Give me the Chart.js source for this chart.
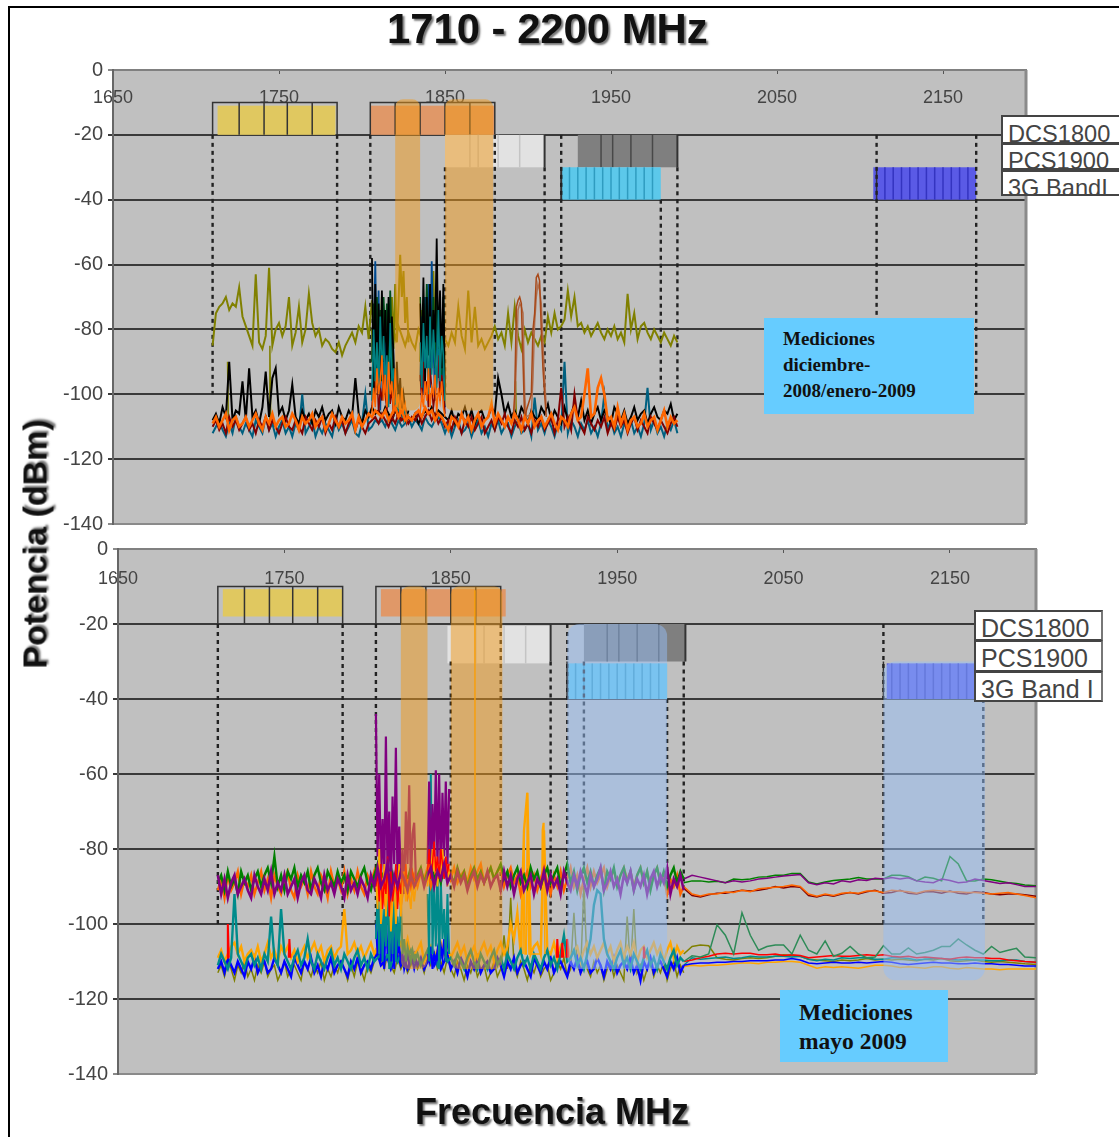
<!DOCTYPE html>
<html>
<head>
<meta charset="utf-8">
<title>1710 - 2200 MHz</title>
<script src="https://cdn.jsdelivr.net/npm/chart.js@4"></script>
<style>
html, body { margin: 0; padding: 0; background: #fff; }
#page { position: relative; width: 1119px; height: 1137px; overflow: hidden; filter: blur(0.55px); font-family: "Liberation Sans", Arial, sans-serif; }
#frame { position: absolute; left: 8px; top: 6px; width: 1111px; height: 1131px; border-left: 2px solid #000; border-top: 2px solid #000; box-sizing: border-box; }
canvas { position: absolute; left: 0; }
.heading { position: absolute; font-weight: bold; color: #111; white-space: nowrap; text-shadow: 2px 2px 2px #777; }
.legend-box { position: absolute; background: #fff; border: 2px solid #444; border-right-color: #777; box-sizing: border-box; overflow: hidden; color: #444; white-space: nowrap; }
.note { position: absolute; background: #66ccff; color: #111; font-family: "Liberation Serif", serif; font-weight: bold; }
.note div { position: absolute; white-space: nowrap; }
</style>
</head>
<body>
<div id="page">
  <div id="frame"></div>
  <canvas id="topChart" width="1119" height="494" style="top:50px"></canvas>
  <canvas id="bottomChart" width="1119" height="565" style="top:529px"></canvas>

  <div class="heading" style="left:387px;top:5px;font-size:41.8px">1710 - 2200 MHz</div>
  <div class="heading" style="left:35px;top:544px;font-size:34px;transform:translate(-50%,-50%) rotate(-90deg)">Potencia (dBm)</div>
  <div class="heading" style="left:415px;top:1091px;font-size:36px">Frecuencia MHz</div>

  <div class="legend-box" style="left:1001px;top:115px;width:120px;height:29px;font-size:23.6px;padding:4px 0 0 5px">DCS1800</div>
  <div class="legend-box" style="left:1001px;top:143px;width:120px;height:27px;font-size:23.6px;padding:3px 0 0 5px">PCS1900</div>
  <div class="legend-box" style="left:1001px;top:170px;width:120px;height:26px;font-size:23.6px;padding:3px 0 0 5px">3G BandI</div>

  <div class="legend-box" style="left:974px;top:610px;width:129px;height:31px;font-size:25px;padding:2px 0 0 5px">DCS1800</div>
  <div class="legend-box" style="left:974px;top:640px;width:129px;height:32px;font-size:25px;padding:2px 0 0 5px">PCS1900</div>
  <div class="legend-box" style="left:974px;top:671px;width:129px;height:31px;font-size:25px;padding:2px 0 0 5px">3G Band I</div>

  <div class="note" style="left:764px;top:318px;width:210px;height:96px;font-size:19px">
    <div style="left:19px;top:10px">Mediciones</div>
    <div style="left:19px;top:36px">diciembre-</div>
    <div style="left:19px;top:62px">2008/enero-2009</div>
  </div>
  <div class="note" style="left:780px;top:990px;width:168px;height:72px;font-size:23.5px">
    <div style="left:19px;top:9px">Mediciones</div>
    <div style="left:19px;top:38px">mayo 2009</div>
  </div>
</div>

<script>
const freqTicks = [1650, 1750, 1850, 1950, 2050, 2150];
// frequency grid shared by the noise traces (MHz)
const freqGrid = [
  1710,1712,1714,1716,1718,1720,1722,1724,1726,1728,
  1730,1732,1734,1736,1738,1740,1742,1744,1746,1748,
  1750,1752,1754,1756,1758,1760,1762,1764,1766,1768,
  1770,1772,1774,1776,1778,1780,1782,1784,1786,1788,
  1790,1792,1794,1796,1798,1800,1802,1804,1806,1808,
  1810,1812,1814,1816,1818,1820,1822,1824,1826,1828,
  1830,1832,1834,1836,1838,1840,1842,1844,1846,1848,
  1850,1852,1854,1856,1858,1860,1862,1864,1866,1868,
  1870,1872,1874,1876,1878,1880,1882,1884,1886,1888,
  1890,1892,1894,1896,1898,1900,1902,1904,1906,1908,
  1910,1912,1914,1916,1918,1920,1922,1924,1926,1928,
  1930,1932,1934,1936,1938,1940,1942,1944,1946,1948,
  1950,1952,1954,1956,1958,1960,1962,1964,1966,1968,
  1970,1972,1974,1976,1978,1980,1982,1984,1986,1988,1990
];

// ---- diciembre 2008 / enero 2009 ----
const topOlive = [
  -85,-75,-73,-72,-70,-74,-72,-73,-67,-76,
  -79,-82,-85,-63,-84,-86,-82,-61,-85,-80,
  -78,-82,-79,-70,-85,-81,-73,-84,-80,-69,
  -78,-82,-80,-85,-83,-84,-86,-87,-84,-88,
  -85,-83,-81,-84,-79,-81,-73,-83,-71,-80,
  -82,-78,-84,-80,-77,-83,-79,-82,-85,-81,
  -84,-86,-80,-83,-79,-82,-78,-81,-84,-80,
  -83,-85,-81,-84,-73,-82,-86,-68,-84,-73,
  -85,-83,-86,-84,-82,-79,-83,-81,-85,-75,
  -84,-73,-82,-86,-80,-84,-81,-83,-85,-82,
  -84,-76,-81,-75,-80,-79,-77,-68,-76,-70,
  -79,-78,-81,-79,-82,-80,-78,-81,-83,-80,
  -82,-79,-83,-81,-84,-69,-80,-75,-83,-79,
  -78,-81,-83,-80,-82,-84,-81,-83,-85,-82,-84
];
const topOrangeNoise = [
  -109,-107,-110,-108,-106,-111,-108,-107,-110,-109,
  -107,-110,-108,-106,-109,-111,-107,-109,-106,-110,
  -108,-107,-110,-109,-106,-108,-111,-107,-109,-108,
  -106,-110,-108,-107,-111,-109,-106,-108,-110,-107,
  -109,-108,-106,-111,-107,-110,-108,-106,-107,-105,
  -106,-107,-105,-108,-106,-104,-107,-105,-108,-107,
  -108,-106,-105,-107,-104,-106,-105,-108,-106,-107,
  -109,-111,-107,-108,-110,-106,-109,-107,-111,-108,
  -106,-110,-108,-107,-103,-109,-106,-108,-110,-107,
  -109,-106,-108,-111,-107,-109,-106,-110,-108,-107,
  -110,-108,-106,-109,-111,-107,-108,-110,-106,-104,
  -108,-107,-100,-92,-107,-106,-98,-95,-100,-108,
  -107,-110,-104,-109,-106,-111,-108,-107,-110,-109,
  -106,-110,-108,-107,-111,-108,-105,-110,-107,-109,-108
];
const topBlackNoise = [
  -108,-106,-109,-104,-107,-90,-108,-105,-106,-96,
  -108,-92,-107,-105,-109,-104,-93,-107,-95,-92,
  -106,-104,-108,-105,-97,-107,-109,-105,-108,-106,
  -109,-105,-107,-104,-108,-106,-105,-109,-104,-107,
  -108,-105,-107,-95,-106,-109,-105,-107,-104,-106,
  -105,-107,-104,-106,-108,-105,-107,-106,-108,-107,
  -108,-106,-109,-107,-105,-106,-104,-107,-105,-106,
  -107,-108,-105,-109,-106,-107,-104,-108,-105,-109,
  -106,-105,-108,-107,-104,-106,-95,-100,-106,-103,
  -107,-105,-108,-104,-106,-109,-105,-107,-108,-104,
  -106,-103,-108,-105,-107,-109,-104,-108,-106,-103,
  -107,-102,-108,-105,-109,-106,-104,-108,-105,-107,
  -109,-104,-106,-108,-105,-109,-107,-104,-108,-106,
  -105,-109,-106,-104,-107,-108,-105,-106,-103,-108,-106
];
const topTealNoise = [
  -112,-110,-108,-111,-113,-109,-112,-107,-110,-112,
  -109,-111,-113,-108,-110,-112,-107,-111,-109,-113,
  -110,-108,-112,-110,-113,-109,-111,-100,-112,-110,
  -108,-113,-110,-112,-109,-111,-113,-108,-111,-109,
  -112,-110,-108,-112,-113,-109,-100,-111,-110,-108,
  -109,-108,-110,-107,-109,-111,-108,-110,-109,-107,
  -110,-108,-109,-111,-107,-109,-110,-108,-107,-109,
  -112,-109,-113,-110,-108,-112,-111,-109,-113,-110,
  -108,-112,-110,-113,-109,-111,-108,-112,-110,-109,
  -113,-110,-108,-112,-111,-109,-113,-101,-111,-109,
  -112,-108,-110,-113,-109,-111,-90,-112,-108,-110,
  -113,-109,-111,-108,-112,-110,-113,-109,-100,-111,
  -108,-112,-110,-113,-109,-111,-108,-112,-110,-113,
  -109,-98,-111,-108,-112,-110,-113,-109,-111,-108,-112
];
const topDarkRedNoise = [
  -110,-108,-111,-109,-112,-107,-110,-108,-111,-109,
  -107,-111,-109,-112,-108,-110,-107,-111,-108,-110,
  -112,-109,-107,-110,-111,-108,-110,-112,-107,-109,
  -111,-108,-110,-107,-112,-109,-111,-107,-110,-108,
  -112,-109,-107,-111,-108,-110,-112,-109,-108,-107,
  -109,-106,-108,-110,-107,-109,-106,-108,-107,-109,
  -107,-108,-106,-109,-107,-105,-108,-106,-109,-107,
  -110,-108,-111,-107,-109,-112,-108,-110,-107,-111,
  -109,-107,-112,-110,-108,-111,-107,-109,-106,-110,
  -112,-108,-110,-107,-111,-109,-112,-108,-110,-107,
  -111,-109,-107,-112,-108,-98,-110,-107,-111,-100,
  -108,-110,-112,-107,-109,-111,-108,-110,-107,-112,
  -109,-111,-107,-110,-108,-112,-109,-107,-111,-108,
  -110,-112,-107,-109,-111,-108,-110,-112,-109,-107,-110
];
// the two dense groups around 1806-1850 MHz, gap marked by null
const topBurstFreq = [
  1806,1807,1808,1809,1810,1811,1812,1813,1814,1815,1816,1817,1818,1819,1820,1821,1822,1823,1824,1825,1826,1827,1828,
  1834,
  1835,1836,1837,1838,1839,1840,1841,1842,1843,1844,1845,1846,1847,1848,1849,1850
];
const topBurstBlack = [-58,-100,-66,-98,-72,-95,-68,-90,-74,-92,-70,-97,-76,-88,-105,-90,-102,-95,-106,-100,-104,-107,-105,null,-72,-92,-64,-96,-70,-88,-66,-90,-74,-84,-52,-86,-68,-92,-66,-100];
const topBurstNavy = [-100,-88,-59,-94,-68,-105,-76,-98,-80,-102,-74,-100,-85,-104,-92,-106,-100,-108,-104,-107,-106,-108,-106,null,-96,-76,-100,-70,-92,-66,-98,-59,-84,-102,-72,-95,-80,-100,-78,-104];
const topBurstTeal = [-102,-80,-96,-84,-100,-76,-94,-82,-98,-88,-104,-78,-96,-92,-105,-100,-107,-104,-106,-108,-105,-107,-106,null,-84,-98,-78,-92,-82,-100,-76,-94,-80,-90,-98,-74,-96,-82,-88,-102];
const topBurstGreen = [-90,-72,-94,-70,-88,-74,-96,-70,-84,-72,-92,-68,-86,-98,-100,-104,-102,-106,-104,-107,-108,-106,-107,null,-70,-86,-72,-90,-66,-84,-74,-88,-70,-92,-68,-82,-72,-94,-70,-98];
const topBurstOlive = [-80,-100,-74,-96,-78,-92,-70,-94,-82,-88,-76,-92,-70,-86,-66,-84,-72,-57,-70,-62,-78,-70,-84,null,-90,-74,-96,-70,-88,-72,-66,-92,-62,-86,-72,-94,-78,-90,-84,-100];
const topBurstOrange = [-106,-98,-104,-92,-100,-96,-88,-102,-94,-104,-90,-100,-96,-106,-92,-104,-100,-107,-98,-105,-103,-108,-106,null,-106,-100,-104,-96,-102,-92,-104,-98,-100,-94,-106,-98,-102,-96,-104,-107];
const topBurstRed = [-104,-96,-100,-92,-106,-98,-102,-94,-100,-105,-96,-103,-98,-107,-102,-106,-104,-108,-105,-107,-106,-109,-107,null,-94,-102,-90,-100,-96,-104,-92,-98,-104,-100,-96,-88,-102,-94,-98,-106];
// narrow carriers seen near 1895 and 1906 MHz
const topPeakFreq = [1891,1892,1893,1894,1895,1896,1897,1898,1899,1902,1903,1904,1905,1906,1907,1908,1909,1910,1911];
const topPeakDark = [-108,-100,-73,-71,-70,-72,-90,-108,-105,-100,-80,-75,-64,-63,-65,-80,-92,-100,-107];
const topPeakLight = [-107,-104,-90,-74,-72,-73,-75,-100,-107,-106,-95,-78,-70,-66,-68,-72,-84,-95,-104];
const topLowFreq = [1744,1744.5,1745,1718.5,1719,1719.5,1892,1892.5,1893];
const topLowOlive = [-108,-85,-108,null,-90,-108,null,-96,-108];

// ---- mayo 2009 ----
const bottomPurple = [
  -87,-92,-88,-93,-89,-87,-92,-90,-88,-91,
  -93,-87,-90,-92,-88,-91,-86,-92,-89,-91,
  -87,-92,-90,-88,-93,-89,-87,-91,-92,-88,
  -90,-93,-87,-91,-89,-92,-88,-90,-93,-87,
  -91,-89,-92,-88,-90,-93,-87,-90,-85,-90,
  -88,-84,-92,-87,-90,-86,-88,-91,-87,-90,
  -88,-86,-90,-87,-85,-90,-86,-88,-84,-89,
  -87,-90,-86,-89,-87,-91,-88,-86,-90,-87,
  -89,-86,-90,-88,-87,-91,-86,-90,-87,-92,
  -88,-86,-91,-89,-87,-92,-88,-90,-86,-91,
  -87,-90,-88,-92,-86,-89,-91,-87,-90,-86,
  -89,-92,-87,-90,-88,-85,-91,-89,-86,-90,
  -88,-92,-87,-89,-86,-91,-88,-90,-87,-92,
  -88,-86,-90,-87,-89,-85,-92,-88,-90,-87,-91
];
const bottomGreen = [
  -89,-87,-91,-86,-90,-88,-92,-86,-89,-87,
  -91,-88,-86,-90,-87,-85,-89,-82,-90,-87,
  -91,-86,-88,-85,-90,-87,-89,-86,-91,-87,
  -85,-89,-91,-86,-88,-90,-86,-89,-87,-91,
  -86,-88,-90,-87,-85,-89,-91,-87,-84,-88,
  -86,-90,-85,-89,-87,-91,-86,-88,-85,-89,
  -87,-85,-89,-86,-84,-88,-86,-89,-85,-88,
  -87,-89,-85,-88,-86,-90,-87,-85,-88,-86,
  -89,-87,-85,-88,-86,-84,-88,-86,-90,-87,
  -85,-89,-87,-90,-85,-88,-86,-90,-87,-85,
  -89,-87,-85,-90,-87,-84,-89,-86,-91,-87,
  -85,-89,-86,-90,-87,-85,-91,-86,-88,-85,
  -90,-87,-85,-89,-86,-91,-87,-85,-89,-86,
  -91,-87,-85,-89,-86,-90,-87,-85,-89,-86,-88
];
const bottomOrangeHigh = [
  -91,-88,-93,-87,-91,-89,-86,-92,-88,-90,
  -87,-92,-89,-86,-91,-88,-93,-87,-90,-92,
  -88,-86,-91,-93,-87,-90,-88,-92,-86,-90,
  -92,-87,-89,-93,-86,-90,-88,-91,-86,-92,
  -88,-91,-86,-90,-92,-87,-89,-86,-92,-90,
  -94,-88,-96,-90,-92,-95,-89,-93,-90,-87,
  -90,-86,-88,-85,-90,-87,-84,-88,-86,-84,
  -88,-85,-89,-87,-86,-89,-85,-88,-86,-84,
  -89,-87,-85,-88,-86,-85,-90,-87,-85,-89,
  -87,-92,-88,-86,-90,-87,-91,-88,-85,-89,
  -92,-87,-90,-86,-91,-88,-85,-90,-87,-92,
  -88,-85,-90,-86,-89,-87,-85,-90,-87,-86,
  -89,-87,-85,-88,-86,-90,-87,-85,-89,-86,
  -90,-87,-85,-89,-87,-92,-88,-90,-87,-92,-90
];
const bottomOrangeLow = [
  -109,-107,-110,-108,-106,-105,-108,-106,-110,-108,
  -107,-109,-106,-110,-108,-105,-109,-107,-110,-106,
  -108,-106,-109,-107,-110,-108,-106,-109,-107,-105,
  -108,-106,-110,-107,-106,-109,-107,-106,-96,-108,
  -107,-105,-108,-106,-109,-107,-105,-108,-106,-100,
  -102,-106,-100,-104,-108,-105,-107,-104,-109,-108,
  -107,-105,-110,-108,-106,-109,-107,-105,-108,-106,
  -109,-107,-105,-108,-106,-110,-108,-106,-109,-107,
  -105,-108,-106,-110,-107,-105,-108,-106,-100,-104,
  -97,-108,-75,-65,-108,-106,-105,-108,-75,-107,
  -108,-105,-109,-106,-108,-105,-109,-107,-106,-110,
  -107,-105,-108,-106,-109,-107,-105,-108,-106,-110,
  -107,-105,-109,-106,-108,-105,-110,-107,-106,-109,
  -107,-105,-108,-106,-110,-107,-105,-109,-106,-108,-107
];
const bottomTeal = [
  -111,-108,-110,-112,-109,-92,-108,-110,-112,-109,
  -108,-111,-109,-112,-108,-110,-98,-109,-111,-96,
  -108,-110,-112,-109,-107,-111,-109,-104,-110,-112,
  -108,-110,-112,-109,-107,-111,-109,-112,-108,-110,
  -112,-109,-107,-111,-109,-112,-108,-110,-109,-108,
  -110,-108,-111,-107,-110,-108,-111,-109,-107,-110,
  -108,-111,-109,-107,-110,-108,-111,-109,-107,-110,
  -109,-111,-108,-110,-112,-109,-107,-110,-112,-108,
  -110,-112,-109,-107,-111,-109,-112,-108,-110,-112,
  -109,-107,-111,-109,-112,-108,-110,-112,-109,-107,
  -111,-109,-112,-108,-103,-110,-109,-107,-111,-109,
  -112,-108,-104,-95,-91,-92,-104,-108,-110,-112,
  -109,-107,-111,-109,-112,-108,-110,-112,-109,-107,
  -111,-109,-112,-108,-110,-112,-109,-107,-111,-109,-110
];
const bottomBlue = [
  -112,-110,-113,-109,-111,-113,-110,-112,-114,-110,
  -112,-109,-113,-111,-110,-113,-112,-109,-111,-113,
  -110,-112,-114,-109,-111,-113,-110,-112,-109,-113,
  -111,-114,-110,-112,-109,-113,-111,-110,-112,-114,
  -110,-112,-109,-113,-111,-110,-112,-109,-108,-111,
  -110,-109,-112,-110,-108,-111,-109,-112,-110,-108,
  -111,-109,-112,-110,-108,-111,-109,-112,-110,-108,
  -112,-110,-113,-109,-111,-114,-110,-112,-109,-113,
  -111,-110,-113,-112,-109,-111,-114,-110,-112,-109,
  -113,-111,-110,-112,-114,-109,-111,-113,-110,-112,
  -109,-113,-111,-110,-112,-114,-110,-112,-109,-113,
  -111,-110,-113,-112,-109,-111,-114,-110,-112,-109,
  -113,-111,-110,-112,-109,-113,-111,-115,-110,-112,
  -109,-113,-111,-110,-112,-114,-110,-112,-109,-113,-111
];
const bottomOlive = [
  -113,-111,-114,-110,-112,-115,-111,-113,-110,-114,
  -112,-115,-111,-113,-110,-114,-112,-111,-115,-113,
  -110,-114,-112,-111,-113,-115,-110,-112,-114,-111,
  -113,-110,-115,-112,-114,-111,-113,-110,-112,-115,
  -111,-114,-110,-112,-115,-111,-113,-110,-105,-109,
  -112,-108,-111,-113,-109,-112,-110,-113,-111,-109,
  -112,-110,-113,-109,-111,-108,-112,-110,-113,-109,
  -112,-114,-110,-112,-115,-111,-113,-110,-114,-112,
  -111,-115,-113,-110,-114,-112,-103,-112,-93,-111,
  -114,-110,-112,-115,-111,-113,-110,-114,-112,-111,
  -115,-113,-110,-112,-109,-114,-112,-97,-111,-113,
  -90,-112,-114,-110,-113,-111,-115,-112,-110,-114,
  -111,-113,-115,-98,-112,-96,-113,-111,-115,-112,
  -110,-114,-111,-113,-110,-115,-112,-110,-114,-111,-113
];
// isolated red carriers, each one closed off by a null
const bottomRedFreq = [1715.6,1716,1716.6,1717,1752.6,1753,1753.6,1754,1913.6,1914,1914.6,1915,1916.6,1917,1917.6,1918,1919.6,1920,1920.6,1921,1965.6,1966,1966.6];
const bottomRedSpikes = [-109,-100,-109,null,-109,-104,-109,null,-109,-104,-109,null,-109,-105,-109,null,-109,-104,-109,null,-109,-106,-109];
const bottomBurstFreq = [
  1805,1806,1807,1808,1809,1810,1811,1812,1813,1814,1815,1816,1817,1818,1819,1820,1821,1822,1823,1824,1825,1826,1827,1828,1829,
  1833,
  1836,1837,1838,1839,1840,1841,1842,1843,1844,1845,1846,1847,1848,1849
];
const bottomBurstPurple = [-44,-82,-60,-86,-72,-90,-50,-88,-70,-92,-66,-84,-53,-90,-74,-88,-80,-92,-70,-84,-63,-90,-76,-73,-88,null,-84,-62,-86,-68,-82,-59,-84,-60,-88,-65,-82,-62,-84,-64];
const bottomBurstTeal = [-104,-92,-108,-88,-110,-96,-106,-86,-112,-94,-108,-90,-110,-98,-106,-94,-108,-104,-110,-106,-108,-110,-107,-109,-108,null,-92,-110,-60,-108,-90,-106,-84,-112,-88,-104,-96,-110,-92,-108];
const bottomBurstBlue = [-100,-108,-96,-110,-102,-112,-98,-108,-104,-110,-100,-112,-96,-108,-106,-110,-108,-112,-110,-108,-111,-109,-110,-112,-110,null,-108,-110,-106,-112,-108,-110,-107,-111,-106,-109,-104,-110,-102,-108];
const bottomBurstOrange = [-88,-96,-80,-100,-92,-84,-98,-90,-86,-102,-94,-88,-100,-92,-84,-98,-90,-86,-94,-88,-92,-96,-89,-94,-90,null,-90,-84,-88,-80,-86,-82,-90,-84,-88,-80,-86,-84,-90,-86];
const bottomBurstRed = [-90,-86,-94,-84,-96,-88,-92,-82,-98,-86,-94,-90,-84,-96,-88,-92,-86,-90,-84,-92,-88,-90,-86,-88,-90,null,-86,-80,-88,-84,-78,-86,-82,-88,-80,-84,-88,-82,-86,-84];
const bottomLineFreq = [1864.5,1864.6,1864.7,1893.4,1894,1894.6,1895.4,1896,1896.6,1897,1904.4,1905,1905.6,1906,1906.6];
const bottomLineOrange = [-11,-110,null,-108,-75,-108,-108,-65,-100,-108,-108,-75,-73,-90,-108];
// sparser sweep above 1990 MHz
const tailFreq = [
  1990,1995,2000,2005,2010,2015,2020,2025,2030,2035,
  2040,2045,2050,2055,2060,2065,2070,2075,2080,2085,
  2090,2095,2100,2105,2110,2115,2120,2125,2130,2135,
  2140,2145,2150,2155,2160,2165,2170,2175,2180,2185,
  2190,2195,2202
];
const tailPurple = [-88,-87,-87.5,-88,-88.5,-89,-88.5,-88.8,-88.5,-88,-87.8,-87.5,-87.2,-87,-86.8,-89,-89.5,-89,-89.3,-88.5,-88.8,-88.2,-88.4,-87.8,-88,-87.6,-88,-87.7,-88.5,-88.8,-89,-88,-88.4,-89,-88.8,-88,-88.4,-88.8,-89.2,-89,-89.5,-90,-90];
const tailGreen = [-89,-88.5,-88.5,-88.8,-88.6,-89,-88,-88.2,-88,-87.5,-87.4,-87,-87,-86.5,-86.5,-88.8,-89.3,-88.8,-88.4,-88.2,-88,-87.6,-88,-88,-88,-87,-87,-87.4,-88.5,-87.5,-87.8,-88.5,-82,-84,-88.5,-88.5,-88,-88.2,-88.6,-89,-89.2,-89.6,-89.8];
const tailOrange = [-90,-92,-92.5,-92,-92,-91.5,-91.6,-91,-91.4,-90.6,-90.4,-90.2,-90,-89.6,-90,-92,-92.6,-92,-92.4,-91.8,-91.6,-91.8,-91.2,-91.2,-91.6,-91,-91.2,-91.4,-91.8,-91.2,-91,-91.2,-91.4,-91.4,-91.6,-91.6,-91.8,-92,-91.8,-91.6,-92,-92.4,-93];
const tailRed = [-90.5,-92.4,-92.8,-92.2,-91.8,-91.8,-91.4,-91,-91.2,-91,-90.6,-90,-90.4,-90,-90.2,-92.4,-92.8,-92.2,-92.6,-92,-91.6,-92,-91.4,-91,-91.8,-91.6,-91,-91.8,-92,-91.4,-91.4,-91.8,-91.2,-91.8,-92,-91.4,-91.6,-92,-92.2,-92,-92,-92.2,-92.6];
const tailGreenLow = [-110,-108.5,-108.8,-108,-100.2,-103,-108,-97,-103,-107,-106,-105.6,-105.6,-108,-103,-107,-108,-104.5,-108.6,-107.8,-106,-108,-109,-108.8,-105.8,-108,-108,-106.4,-108,-107.6,-107,-106,-106,-104,-105.6,-107,-108,-106,-107.6,-107,-106.5,-108.8,-109];
const tailRedLow = [-110,-109.6,-109,-108.6,-108,-107.8,-108,-107.8,-107.8,-108.2,-108.2,-108,-108.4,-108.2,-108.4,-109,-108.8,-108.6,-108.4,-108.6,-108.6,-108.4,-108.2,-108.4,-108.2,-108.6,-108.8,-108.6,-109,-108.8,-109,-109.2,-109.4,-109,-108.8,-109,-109,-109.2,-109.2,-109.6,-109.8,-110,-110.2];
const tailBlue = [-111,-110.6,-110.4,-110.4,-110.2,-110.2,-110,-110,-109.8,-109.8,-109.8,-109.6,-109.6,-109.2,-109.6,-110.4,-110.6,-110.4,-110.2,-110.4,-110.4,-110.2,-110.4,-110.2,-110,-110.2,-110.6,-110.8,-110.6,-110.4,-110.2,-110.4,-110.4,-110.6,-110.6,-110.4,-110.6,-110.6,-110.8,-110.8,-111,-111.2,-111.2];
const tailTeal = [-111,-109,-109.4,-109.2,-109,-108.8,-109.2,-109,-108.6,-108.8,-108.8,-108.6,-108.6,-108.8,-108.6,-109.4,-109.8,-109.4,-109.6,-109,-109.2,-109,-109,-109.4,-109.4,-109,-109,-109.2,-109.6,-109.4,-109.2,-109.2,-109.4,-109.6,-109.4,-109.6,-109.6,-109.8,-109.8,-109.6,-109.6,-110,-110.2];
const tailOrangeLow = [-111.4,-111,-111.2,-111,-111,-110.8,-110.6,-110.4,-110.4,-110.6,-110.2,-110.2,-110,-110,-110.2,-111,-111.8,-111.4,-111.6,-111.4,-111.6,-111.8,-111.4,-111,-111,-111.2,-111.6,-111.4,-111.6,-111.8,-111.4,-111.4,-111.8,-112,-111.6,-111.8,-112,-112,-112.2,-112,-112,-112,-112];
const tailOlive = [-108,-106,-105.6,-105.8,-109,-109.4,-109.6,-109.2,-109,-109.2,-109,-108.6,-108.2,-108.4,-108.6,-109.4,-109.6,-109.8,-110,-109.6,-109.8,-109.6,-109.2,-109.6,-109.4,-109.6,-109.4,-109.6,-109.8,-109.4,-109.6,-109.2,-109.8,-110,-109.8,-109.6,-110,-110.2,-110,-110.2,-110.4,-110.6,-110.8];

// frequency plan: [from MHz, to MHz, top dBm, bottom dBm]
const topBlocks = {
  dcsUp:   [1713, 1784, -11, -20],
  dcsDown: [1805, 1880, -11, -20],
  pcsUp:   [1850, 1910, -20, -30],
  pcsDown: [1930, 1990, -20, -30],
  umtsUp:  [1920, 1980, -30, -40],
  umtsDown:[2108, 2170, -30, -40]
};
const bottomBlocks = {
  dcsUp:   [1713, 1785, -10.7, -18],
  dcsDown: [1808, 1883, -10.7, -18],
  pcsUp:   [1848, 1910, -20.5, -30.5],
  pcsDown: [1930, 1991, -20, -30],
  umtsUp:  [1920, 1980, -30.5, -40],
  umtsDown:[2112, 2172, -30.5, -40]
};
const dcsUpDividers = [1726, 1741, 1755, 1770];
const dcsDownDividers = [1820, 1835, 1850, 1865];
const pcsUpDividers = [1865, 1870, 1882, 1895];
const pcsDownDividers = [1944, 1951, 1962, 1975];
const umtsUpDividers = [1925, 1930, 1935, 1940, 1945, 1950, 1955, 1960, 1965, 1970, 1975];
const umtsDownDividers = [2115, 2120, 2125, 2130, 2135, 2140, 2145, 2150, 2155, 2160, 2165];
// [MHz, start dBm] of the dotted band edges, all run down to -100
const topEdges = [[1710,-20],[1785,-20],[1805,-20],[1850,-30],[1880,-20],[1910,-30],[1920,-20],[1980,-40],[1990,-30],[2110,-20],[2170,-20]];
const bottomEdges = [[1710,-20],[1785,-20],[1805,-20],[1850,-30],[1880,-20],[1910,-30],[1920,-20],[1930,-30],[1980,-40],[1990,-30],[2110,-20],[2170,-40]];
// translucent highlights over the measured traces
const topOrangeHighlights = [[1820, 1835, -9, -105], [1850, 1879, -9, -105]];
const bottomOrangeHighlights = [[1820, 1836, -10, -112], [1850, 1881, -10, -112]];
const bottomBlueHighlights = [[1920, 1980, -20, -112], [2110, 2171, -30, -115]];

const ORANGE_HL = 'rgba(240,152,24,0.5)';
const BLUE_HL = 'rgba(150,190,245,0.5)';

function trace(freqs, values, color, width) {
  return {
    data: values.map((v, i) => ({ x: freqs[i], y: v })),
    borderColor: color,
    borderWidth: width || 1.5,
    pointRadius: 0,
    tension: 0,
    fill: false
  };
}

function fillBlock(chart, block, color, dividers, dividerColor) {
  const { x, y } = chart.scales;
  const ctx = chart.ctx;
  const x0 = x.getPixelForValue(block[0]);
  const x1 = x.getPixelForValue(block[1]);
  const y0 = y.getPixelForValue(block[2]);
  const y1 = y.getPixelForValue(block[3]);
  ctx.fillStyle = color;
  ctx.fillRect(x0, y0, x1 - x0, y1 - y0);
  ctx.strokeStyle = dividerColor;
  ctx.lineWidth = 1.5;
  dividers.forEach(d => {
    const px = x.getPixelForValue(d);
    ctx.beginPath();
    ctx.moveTo(px, y0);
    ctx.lineTo(px, y1);
    ctx.stroke();
  });
}

// upside-down U over a band, with its channel ticks
function bracket(chart, from, to, dividers) {
  const { x, y } = chart.scales;
  const ctx = chart.ctx;
  const top = y.getPixelForValue(-10);
  const bot = y.getPixelForValue(-20);
  ctx.strokeStyle = '#333';
  ctx.lineWidth = 1.5;
  ctx.beginPath();
  ctx.moveTo(x.getPixelForValue(from), bot);
  ctx.lineTo(x.getPixelForValue(from), top);
  ctx.lineTo(x.getPixelForValue(to), top);
  ctx.lineTo(x.getPixelForValue(to), bot);
  dividers.forEach(d => {
    ctx.moveTo(x.getPixelForValue(d), top);
    ctx.lineTo(x.getPixelForValue(d), bot);
  });
  ctx.stroke();
}

function vline(chart, freq, from, to, color, width) {
  const { x, y } = chart.scales;
  const ctx = chart.ctx;
  const px = x.getPixelForValue(freq);
  ctx.strokeStyle = color;
  ctx.lineWidth = width;
  ctx.beginPath();
  ctx.moveTo(px, y.getPixelForValue(from));
  ctx.lineTo(px, y.getPixelForValue(to));
  ctx.stroke();
}

function highlights(chart, list, color, radius) {
  const { x, y } = chart.scales;
  const ctx = chart.ctx;
  ctx.fillStyle = color;
  list.forEach(b => {
    const x0 = x.getPixelForValue(b[0]);
    const x1 = x.getPixelForValue(b[1]);
    const y0 = y.getPixelForValue(b[2]);
    const y1 = y.getPixelForValue(b[3]);
    ctx.beginPath();
    ctx.roundRect(x0, y0, x1 - x0, y1 - y0, radius);
    ctx.fill();
  });
}

const plotBackground = {
  id: 'plotBackground',
  beforeDraw(chart) {
    const a = chart.chartArea;
    chart.ctx.fillStyle = '#c0c0c0';
    chart.ctx.fillRect(a.left, a.top, a.width, a.height);
  }
};

function planPlugin(blocks, edges, orange, blue) {
  return {
    id: 'plan',
    beforeDatasetsDraw(chart) {
      const ctx = chart.ctx;
      const a = chart.chartArea;
      ctx.save();
      ctx.strokeStyle = '#8a8a8a';
      ctx.lineWidth = 3;
      ctx.beginPath();
      ctx.moveTo(a.right, a.top);
      ctx.lineTo(a.right, a.bottom);
      ctx.stroke();

      fillBlock(chart, blocks.dcsUp, '#e0c860', [], '#333');
      fillBlock(chart, blocks.dcsDown, '#e09868', [], '#333');
      bracket(chart, 1710, 1785, dcsUpDividers);
      bracket(chart, 1805, 1880, dcsDownDividers);
      fillBlock(chart, blocks.pcsUp, '#e2e2e2', pcsUpDividers, '#c4c4c4');
      fillBlock(chart, blocks.pcsDown, '#7f7f7f', pcsDownDividers, '#484848');
      fillBlock(chart, blocks.umtsUp, '#5cc8ea', umtsUpDividers, '#2f9cc0');
      fillBlock(chart, blocks.umtsDown, '#5a5ae6', umtsDownDividers, '#3434c0');
      vline(chart, 1910, -20, -30, '#333', 2);
      vline(chart, blocks.pcsDown[1], -20, -30, '#333', 2);
      vline(chart, 1920, -30, -40, '#333', 2);
      vline(chart, 2110, -30, -40, '#333', 1.5);

      ctx.setLineDash([4, 4]);
      edges.forEach(e => vline(chart, e[0], e[1], -100, '#222', 2.4));
      ctx.restore();
    },
    afterDatasetsDraw(chart) {
      chart.ctx.save();
      highlights(chart, orange, ORANGE_HL, 8);
      highlights(chart, blue, BLUE_HL, 12);
      chart.ctx.restore();
    }
  };
}

function buildChart(id, datasets, plugin, layout) {
  return new Chart(document.getElementById(id), {
    type: 'line',
    data: { datasets: datasets },
    plugins: [plotBackground, plugin],
    options: {
      responsive: false,
      animation: false,
      events: [],
      layout: { padding: { top: 0, left: 0, right: layout.right, bottom: 20 } },
      plugins: { legend: { display: false }, tooltip: { enabled: false }, title: { display: false } },
      scales: {
        x: {
          type: 'linear',
          position: 'top',
          min: 1650,
          max: layout.xMax,
          afterBuildTicks(scale) { scale.ticks = freqTicks.map(v => ({ value: v })); },
          afterFit(scale) { scale.height = 20; },
          grid: { drawOnChartArea: false, drawTicks: true, tickLength: -4, color: '#555' },
          border: { color: '#808080', width: 2 },
          ticks: {
            autoSkip: false,
            maxRotation: 0,
            mirror: true, // keeps the labels from being clipped to the axis box
            padding: layout.labelPad,
            color: '#444',
            font: { family: '"Liberation Sans", Arial, sans-serif', size: 18 },
            callback: v => String(v)
          }
        },
        y: {
          type: 'linear',
          min: -140,
          max: 0,
          afterFit(scale) { scale.width = layout.left; },
          grid: {
            lineWidth: 2,
            tickLength: 5,
            color: c => (c.tick.value === 0 || c.tick.value === -140) ? '#8a8a8a' : '#3a3a3a'
          },
          border: { color: '#666', width: 2 },
          ticks: {
            stepSize: 20,
            padding: 5,
            color: '#444',
            font: { family: '"Liberation Sans", Arial, sans-serif', size: 20 },
            callback: v => String(v)
          }
        }
      }
    }
  });
}

const topDatasets = [
  trace(freqGrid, topOrangeNoise, '#ff6600', 2.6),
  trace(topBurstFreq, topBurstOrange, '#ff6600', 1.5),
  trace(topPeakFreq, topPeakDark, '#a84818', 1.5),
  trace(topPeakFreq, topPeakLight, '#b07050', 1.5),
  trace(freqGrid, topDarkRedNoise, '#800000', 2),
  trace(topBurstFreq, topBurstTeal, '#008080', 1.6),
  trace(topBurstFreq, topBurstBlack, '#000000', 1.8),
  trace(topBurstFreq, topBurstGreen, '#004d1a', 1.8),
  trace(topBurstFreq, topBurstRed, '#800000', 1.5),
  trace(topBurstFreq, topBurstNavy, '#004a90', 1.8),
  trace(freqGrid, topBlackNoise, '#000000', 2),
  trace(freqGrid, topTealNoise, '#006080', 2),
  trace(topLowFreq, topLowOlive, '#808000', 1.5),
  trace(topBurstFreq, topBurstOlive, '#808000', 2),
  trace(freqGrid, topOlive, '#808000', 2)
];

const bottomDatasets = [
  trace(freqGrid, bottomPurple, '#800080', 2.6),
  trace(bottomBurstFreq, bottomBurstRed, '#ff0000', 1.5),
  trace(bottomBurstFreq, bottomBurstOrange, '#ffa500', 1.8),
  trace(bottomBurstFreq, bottomBurstPurple, '#800080', 2.2),
  trace(freqGrid, bottomGreen, '#008000', 2.4),
  trace(freqGrid, bottomOrangeHigh, '#ff6600', 2.4),
  trace(bottomLineFreq, bottomLineOrange, '#ffa500', 1.5),
  trace(bottomBurstFreq, bottomBurstTeal, '#008b8b', 2),
  trace(bottomBurstFreq, bottomBurstBlue, '#0000ff', 2),
  trace(bottomRedFreq, bottomRedSpikes, '#ff0000', 2),
  trace(freqGrid, bottomTeal, '#008b8b', 2.4),
  trace(freqGrid, bottomOrangeLow, '#ffa500', 2.4),
  trace(freqGrid, bottomBlue, '#0000ff', 2.4),
  trace(freqGrid, bottomOlive, '#808000', 1.5),
  trace(tailFreq, tailPurple, '#800080', 1.5),
  trace(tailFreq, tailGreen, '#008000', 1.5),
  trace(tailFreq, tailOrange, '#ff6600', 1.5),
  trace(tailFreq, tailRed, '#800000', 1.5),
  trace(tailFreq, tailGreenLow, '#2e8b57', 1.5),
  trace(tailFreq, tailRedLow, '#ff0000', 1.5),
  trace(tailFreq, tailBlue, '#0000ff', 1.5),
  trace(tailFreq, tailTeal, '#008b8b', 1.5),
  trace(tailFreq, tailOrangeLow, '#ffa500', 1.5),
  trace(tailFreq, tailOlive, '#808000', 1.5)
];

buildChart('topChart', topDatasets,
  planPlugin(topBlocks, topEdges, topOrangeHighlights, []),
  { left: 113, right: 93, xMax: 2200, labelPad: 17 });

buildChart('bottomChart', bottomDatasets,
  planPlugin(bottomBlocks, bottomEdges, bottomOrangeHighlights, bottomBlueHighlights),
  { left: 118, right: 83, xMax: 2201.7, labelPad: 19 });
</script>
</body>
</html>
